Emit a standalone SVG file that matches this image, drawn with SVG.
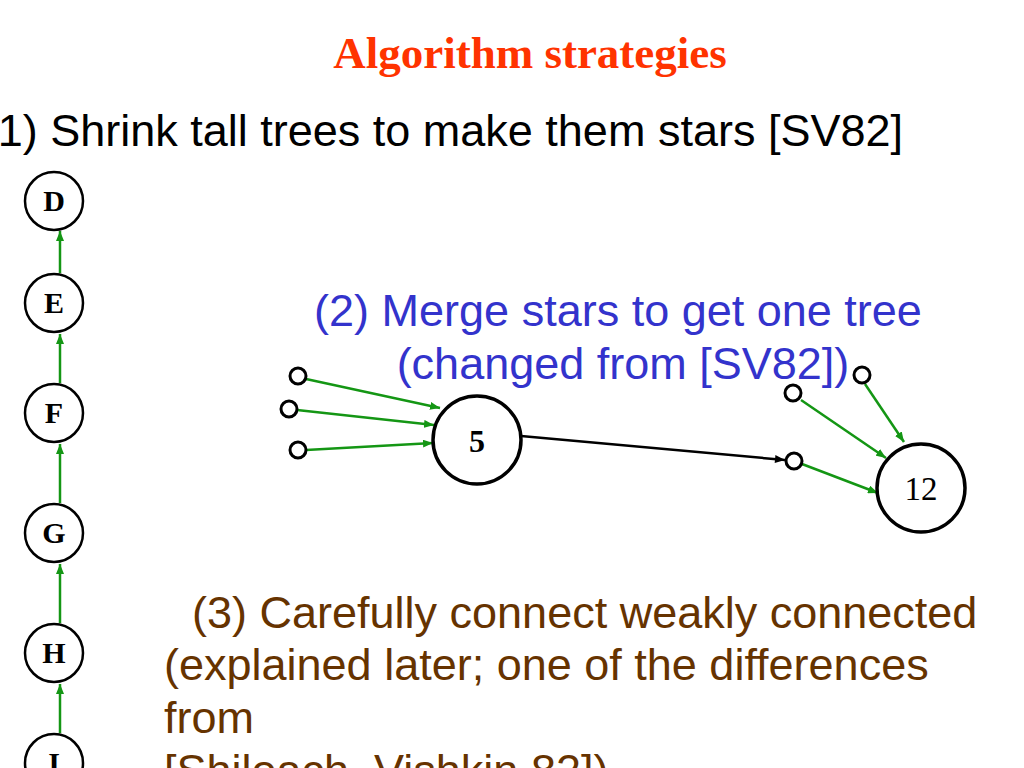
<svg xmlns="http://www.w3.org/2000/svg" width="1024" height="768" viewBox="0 0 1024 768">
<defs>
<marker id="ag" viewBox="0 0 10 8" refX="10" refY="4" markerWidth="10" markerHeight="8" orient="auto" markerUnits="userSpaceOnUse"><path d="M0,0 L10,4 L0,8 z" fill="#149614"/></marker>
<marker id="ab" viewBox="0 0 10 8" refX="10" refY="4" markerWidth="11" markerHeight="8" orient="auto" markerUnits="userSpaceOnUse"><path d="M0,0 L10,4 L0,8 z" fill="#000"/></marker>
<style>
.n{fill:#fff;stroke:#000;stroke-width:2.5}
.nb{fill:#fff;stroke:#000;stroke-width:3.5}
.s{fill:#fff;stroke:#000;stroke-width:3}
.lb{font-family:"Liberation Serif","Times New Roman",serif;font-weight:bold;font-size:30px;text-anchor:middle}
.g{stroke:#149614;stroke-width:2.5;fill:none}
.k{stroke:#000;stroke-width:2.5;fill:none}
.sans{font-family:"Liberation Sans",Arial,sans-serif;font-size:45px}
</style>
</defs>
<text x="530" y="68" font-family="Liberation Serif,serif" font-weight="bold" font-size="45" fill="#FF3300" text-anchor="middle">Algorithm strategies</text>
<text class="sans" x="903" y="146" text-anchor="end" fill="#000">(1) Shrink tall trees to make them stars [SV82]</text>
<text class="sans" x="618" y="326" text-anchor="middle" fill="#3333CC">(2) Merge stars to get one tree</text>
<text class="sans" x="623" y="379" text-anchor="middle" fill="#3333CC">(changed from [SV82])</text>
<g class="sans" fill="#663300">
<text x="192" y="628">(3) Carefully connect weakly connected</text>
<text x="164" y="680">(explained later; one of the differences</text>
<text x="164" y="733">from</text>
<text x="164" y="786">[Shiloach, Vishkin 82])</text>
</g>
<g id="connectors">
<line class="g" x1="60" y1="273" x2="60" y2="231" marker-end="url(#ag)"/>
<line class="g" x1="60" y1="383" x2="60" y2="334" marker-end="url(#ag)"/>
<line class="g" x1="60" y1="503" x2="60" y2="444" marker-end="url(#ag)"/>
<line class="g" x1="60" y1="623" x2="60" y2="564" marker-end="url(#ag)"/>
<line class="g" x1="60" y1="733" x2="60" y2="684" marker-end="url(#ag)"/>
<line class="g" x1="306" y1="379" x2="440" y2="408" marker-end="url(#ag)"/>
<line class="g" x1="297" y1="410" x2="434" y2="425" marker-end="url(#ag)"/>
<line class="g" x1="306" y1="450" x2="433" y2="443" marker-end="url(#ag)"/>
<line class="k" x1="521" y1="436" x2="785" y2="460" marker-end="url(#ab)"/>
<line class="g" x1="801" y1="400" x2="886" y2="458" marker-end="url(#ag)"/>
<line class="g" x1="865" y1="384" x2="904" y2="442" marker-end="url(#ag)"/>
<line class="g" x1="802" y1="464" x2="878" y2="493" marker-end="url(#ag)"/>
</g>
<g id="nD"><circle class="n" cx="54" cy="201" r="29"/><text class="lb" x="54" y="211">D</text></g>
<g id="nE"><circle class="n" cx="54" cy="303" r="29"/><text class="lb" x="54" y="313">E</text></g>
<g id="nF"><circle class="n" cx="54" cy="413" r="29"/><text class="lb" x="54" y="423">F</text></g>
<g id="nG"><circle class="n" cx="54" cy="533" r="29"/><text class="lb" x="54" y="543">G</text></g>
<g id="nH"><circle class="n" cx="54" cy="653" r="29"/><text class="lb" x="54" y="663">H</text></g>
<g id="nI"><circle class="n" cx="54" cy="763" r="29"/><text class="lb" x="54" y="773">I</text></g>
<g id="n5"><circle class="nb" cx="477" cy="440" r="44"/><text x="477" y="452" font-family="Liberation Serif,serif" font-weight="bold" font-size="32" text-anchor="middle">5</text></g>
<g id="n12"><circle class="nb" cx="921" cy="488" r="44"/><text x="921" y="500" font-family="Liberation Serif,serif" font-size="33" text-anchor="middle">12</text></g>
<g id="s1"><circle class="s" cx="298" cy="376" r="8"/></g>
<g id="s2"><circle class="s" cx="289" cy="409" r="8"/></g>
<g id="s3"><circle class="s" cx="298" cy="450" r="8"/></g>
<g id="s4"><circle class="s" cx="793" cy="393" r="8"/></g>
<g id="s5"><circle class="s" cx="862" cy="375" r="8"/></g>
<g id="s6"><circle class="s" cx="794" cy="461" r="8"/></g>
</svg>
